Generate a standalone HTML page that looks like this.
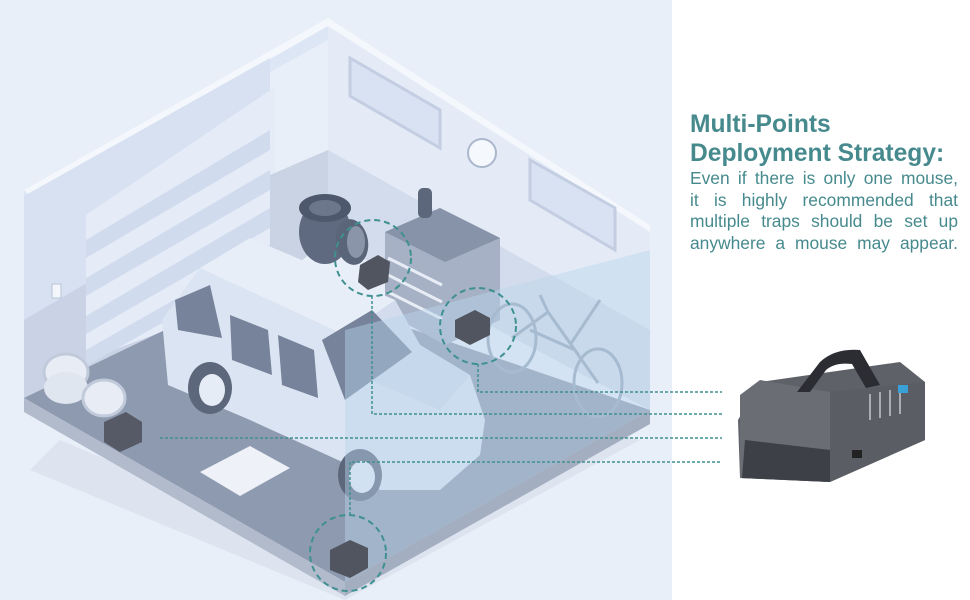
<!DOCTYPE html>
<html><head><meta charset="utf-8"><style>
html,body{margin:0;padding:0;background:#fff}
.wrap{position:relative;width:970px;height:600px;overflow:hidden}
svg{position:absolute;left:0;top:0}
.txt{position:absolute;left:690px;top:110px;width:268px;color:#468a8e;font-family:"Liberation Sans",sans-serif}
.t{font-weight:bold;font-size:24.6px;line-height:29px;white-space:nowrap}
.b{font-size:17.4px;line-height:21.5px}
.b div{white-space:nowrap;display:flex;justify-content:space-between}
</style></head><body><div class="wrap">
<svg width="970" height="600" viewBox="0 0 970 600">
<rect x="0" y="0" width="672" height="600" fill="#e9eff9"/>
<polygon points="30,470 345,600 640,440 600,430 345,560 60,440" fill="#dde4ef"/>
<polygon points="24,190 328,18 328,40 270,72 270,175 24,320" fill="#dde6f4"/>
<polygon points="24,190 328,18 335,22 30,196" fill="#f4f7fc"/>
<polygon points="24,196 270,58 270,285 24,400" fill="#d7e1f1"/>
<polygon points="24,320 270,175 270,285 24,400" fill="#c9d3e5"/>
<polygon points="86,215 275,87 275,290 86,360" fill="#e6ecf7"/>
<g fill="#d0dbee">
<polygon points="86,240 270,130 270,150 86,258"/>
<polygon points="86,278 270,170 270,190 86,296"/>
<polygon points="86,316 270,208 270,228 86,334"/>
<polygon points="86,350 270,245 270,262 86,366"/>
</g>
<rect x="52" y="284" width="9" height="14" fill="#f3f6fb" stroke="#b8c4d8"/>
<polygon points="328,18 650,225 650,410 328,240" fill="#e4ebf7"/>
<polygon points="328,18 650,225 650,232 328,26" fill="#f4f7fc"/>
<polygon points="270,175 328,150 328,240 270,285" fill="#c9d3e4"/>
<polygon points="328,150 650,330 650,410 328,240" fill="#d3dcec"/>
<polygon points="350,58 440,110 440,148 350,96" fill="#d8e2f2" stroke="#c3cee2" stroke-width="3"/>
<polygon points="530,160 615,208 615,250 530,200" fill="#d8e2f2" stroke="#c3cee2" stroke-width="3"/>
<circle cx="482" cy="153" r="14" fill="#f5f8fc" stroke="#aab7cc" stroke-width="2"/>
<polygon points="24,398 268,280 650,410 345,582" fill="#8e9ab0"/>
<polygon points="24,398 345,582 345,596 24,412" fill="#b1bbcc"/>
<polygon points="345,582 650,410 650,424 345,596" fill="#a3aec1"/>
<ellipse cx="325" cy="232" rx="26" ry="32" fill="#5f6a80"/>
<ellipse cx="325" cy="208" rx="26" ry="14" fill="#4e586c"/>
<ellipse cx="325" cy="208" rx="16" ry="8" fill="#6c778c"/>
<ellipse cx="352" cy="242" rx="16" ry="23" fill="#5a6579" transform="rotate(-10 352 242)"/>
<ellipse cx="356" cy="242" rx="9" ry="16" fill="#8a95aa"/>
<polygon points="385,232 440,208 500,238 500,320 445,345 385,312" fill="#a6b1c5"/>
<polygon points="385,232 440,208 500,238 445,262" fill="#8793a9"/>
<g stroke="#e8edf5" stroke-width="3"><line x1="388" y1="258" x2="442" y2="285"/><line x1="388" y1="275" x2="442" y2="302"/><line x1="388" y1="292" x2="442" y2="319"/></g>
<rect x="418" y="188" width="14" height="30" rx="5" fill="#5d677c"/>
<ellipse cx="66" cy="372" rx="22" ry="18" fill="#e8edf5" stroke="#c1cadb" stroke-width="3"/>
<ellipse cx="66" cy="388" rx="22" ry="16" fill="#dfe6f0"/>
<ellipse cx="104" cy="398" rx="21" ry="18" fill="#e8edf5" stroke="#c1cadb" stroke-width="3"/>
<polygon points="104,422 126,412 142,422 142,442 120,452 104,442" fill="#555a66"/>
<polygon points="200,472 250,446 290,468 240,496" fill="#eef2f8"/>
<g fill="none" stroke="#9aa6ba" stroke-width="3"><ellipse cx="512" cy="338" rx="24" ry="34"/><ellipse cx="598" cy="383" rx="24" ry="34"/><path d="M512 338 L548 312 L598 383 M548 312 L575 350 L530 330 M540 295 L548 312 M600 300 L570 345"/></g>
<polygon points="162,320 200,268 250,238 395,300 420,345 470,375 485,420 480,455 440,490 380,490 360,470 250,420 168,385" fill="#dbe4f2"/>
<polygon points="200,268 250,238 395,300 345,335" fill="#e8eef8"/>
<polygon points="345,335 395,300 420,345 470,375 440,410 370,380" fill="#d2dced"/>
<polygon points="175,300 210,285 222,338 178,330" fill="#76839b"/>
<polygon points="230,315 268,330 272,375 232,360" fill="#76839b"/>
<polygon points="278,335 314,350 318,398 282,385" fill="#76839b"/>
<polygon points="322,340 372,310 412,352 345,400" fill="#76839b"/>
<ellipse cx="210" cy="388" rx="22" ry="26" fill="#5d677c"/><ellipse cx="212" cy="390" rx="13" ry="16" fill="#e6ecf6"/>
<ellipse cx="360" cy="475" rx="22" ry="26" fill="#5d677c"/><ellipse cx="362" cy="477" rx="13" ry="16" fill="#e6ecf6"/>
<polygon points="345,330 650,250 650,410 345,582" fill="#b9d4ea" opacity="0.45"/>
<polygon points="360,265 378,255 390,262 388,282 368,290 358,282" fill="#50555f"/>
<polygon points="455,320 475,310 490,318 490,335 470,345 455,337" fill="#50555f"/>
<polygon points="330,550 350,540 368,548 368,568 350,578 330,570" fill="#50555f"/>
<g fill="none" stroke="#3f9090" stroke-width="2" stroke-dasharray="6,4">
<circle cx="373" cy="258" r="38"/>
<circle cx="478" cy="326" r="38"/>
<circle cx="348" cy="553" r="38"/>
</g>
<g fill="none" stroke="#3f9090" stroke-width="1.5" stroke-dasharray="3,2">
<polyline points="478,364 478,392 722,392"/>
<polyline points="372,296 372,414 722,414"/>
<polyline points="160,438 722,438"/>
<polyline points="350,515 350,462 722,462"/>
</g>
<polygon points="760,382 900,362 925,382 925,440 830,482 740,478 738,420" fill="#4d5058" opacity="0.9"/>
<polygon points="740,395 760,380 830,392 830,482 740,478" fill="#6a6d74"/>
<polygon points="745,440 830,450 830,482 742,478" fill="#3e4047"/>
<polygon points="830,392 925,382 925,440 830,482" fill="#5a5d64"/>
<path d="M797 392 L820 362 Q835 348 860 350 L880 385 L866 388 L852 364 Q835 362 826 370 L810 392Z" fill="#2b2d33"/>
<g stroke="#a9acb2" stroke-width="2"><line x1="880" y1="392" x2="880" y2="418"/><line x1="890" y1="390" x2="890" y2="416"/><line x1="900" y1="388" x2="900" y2="414"/><line x1="870" y1="394" x2="870" y2="420"/></g>
<rect x="898" y="385" width="10" height="8" fill="#3aa0d8"/>
<rect x="852" y="450" width="10" height="8" fill="#222"/>
</svg>
<div class="txt"><div class="t">Multi-Points<br>Deployment Strategy:</div>
<div class="b">
<div><span>Even</span><span>if</span><span>there</span><span>is</span><span>only</span><span>one</span><span>mouse,</span></div>
<div><span>it</span><span>is</span><span>highly</span><span>recommended</span><span>that</span></div>
<div><span>multiple</span><span>traps</span><span>should</span><span>be</span><span>set</span><span>up</span></div>
<div><span>anywhere</span><span>a</span><span>mouse</span><span>may</span><span>appear.</span></div>
</div></div>
</div></body></html>
